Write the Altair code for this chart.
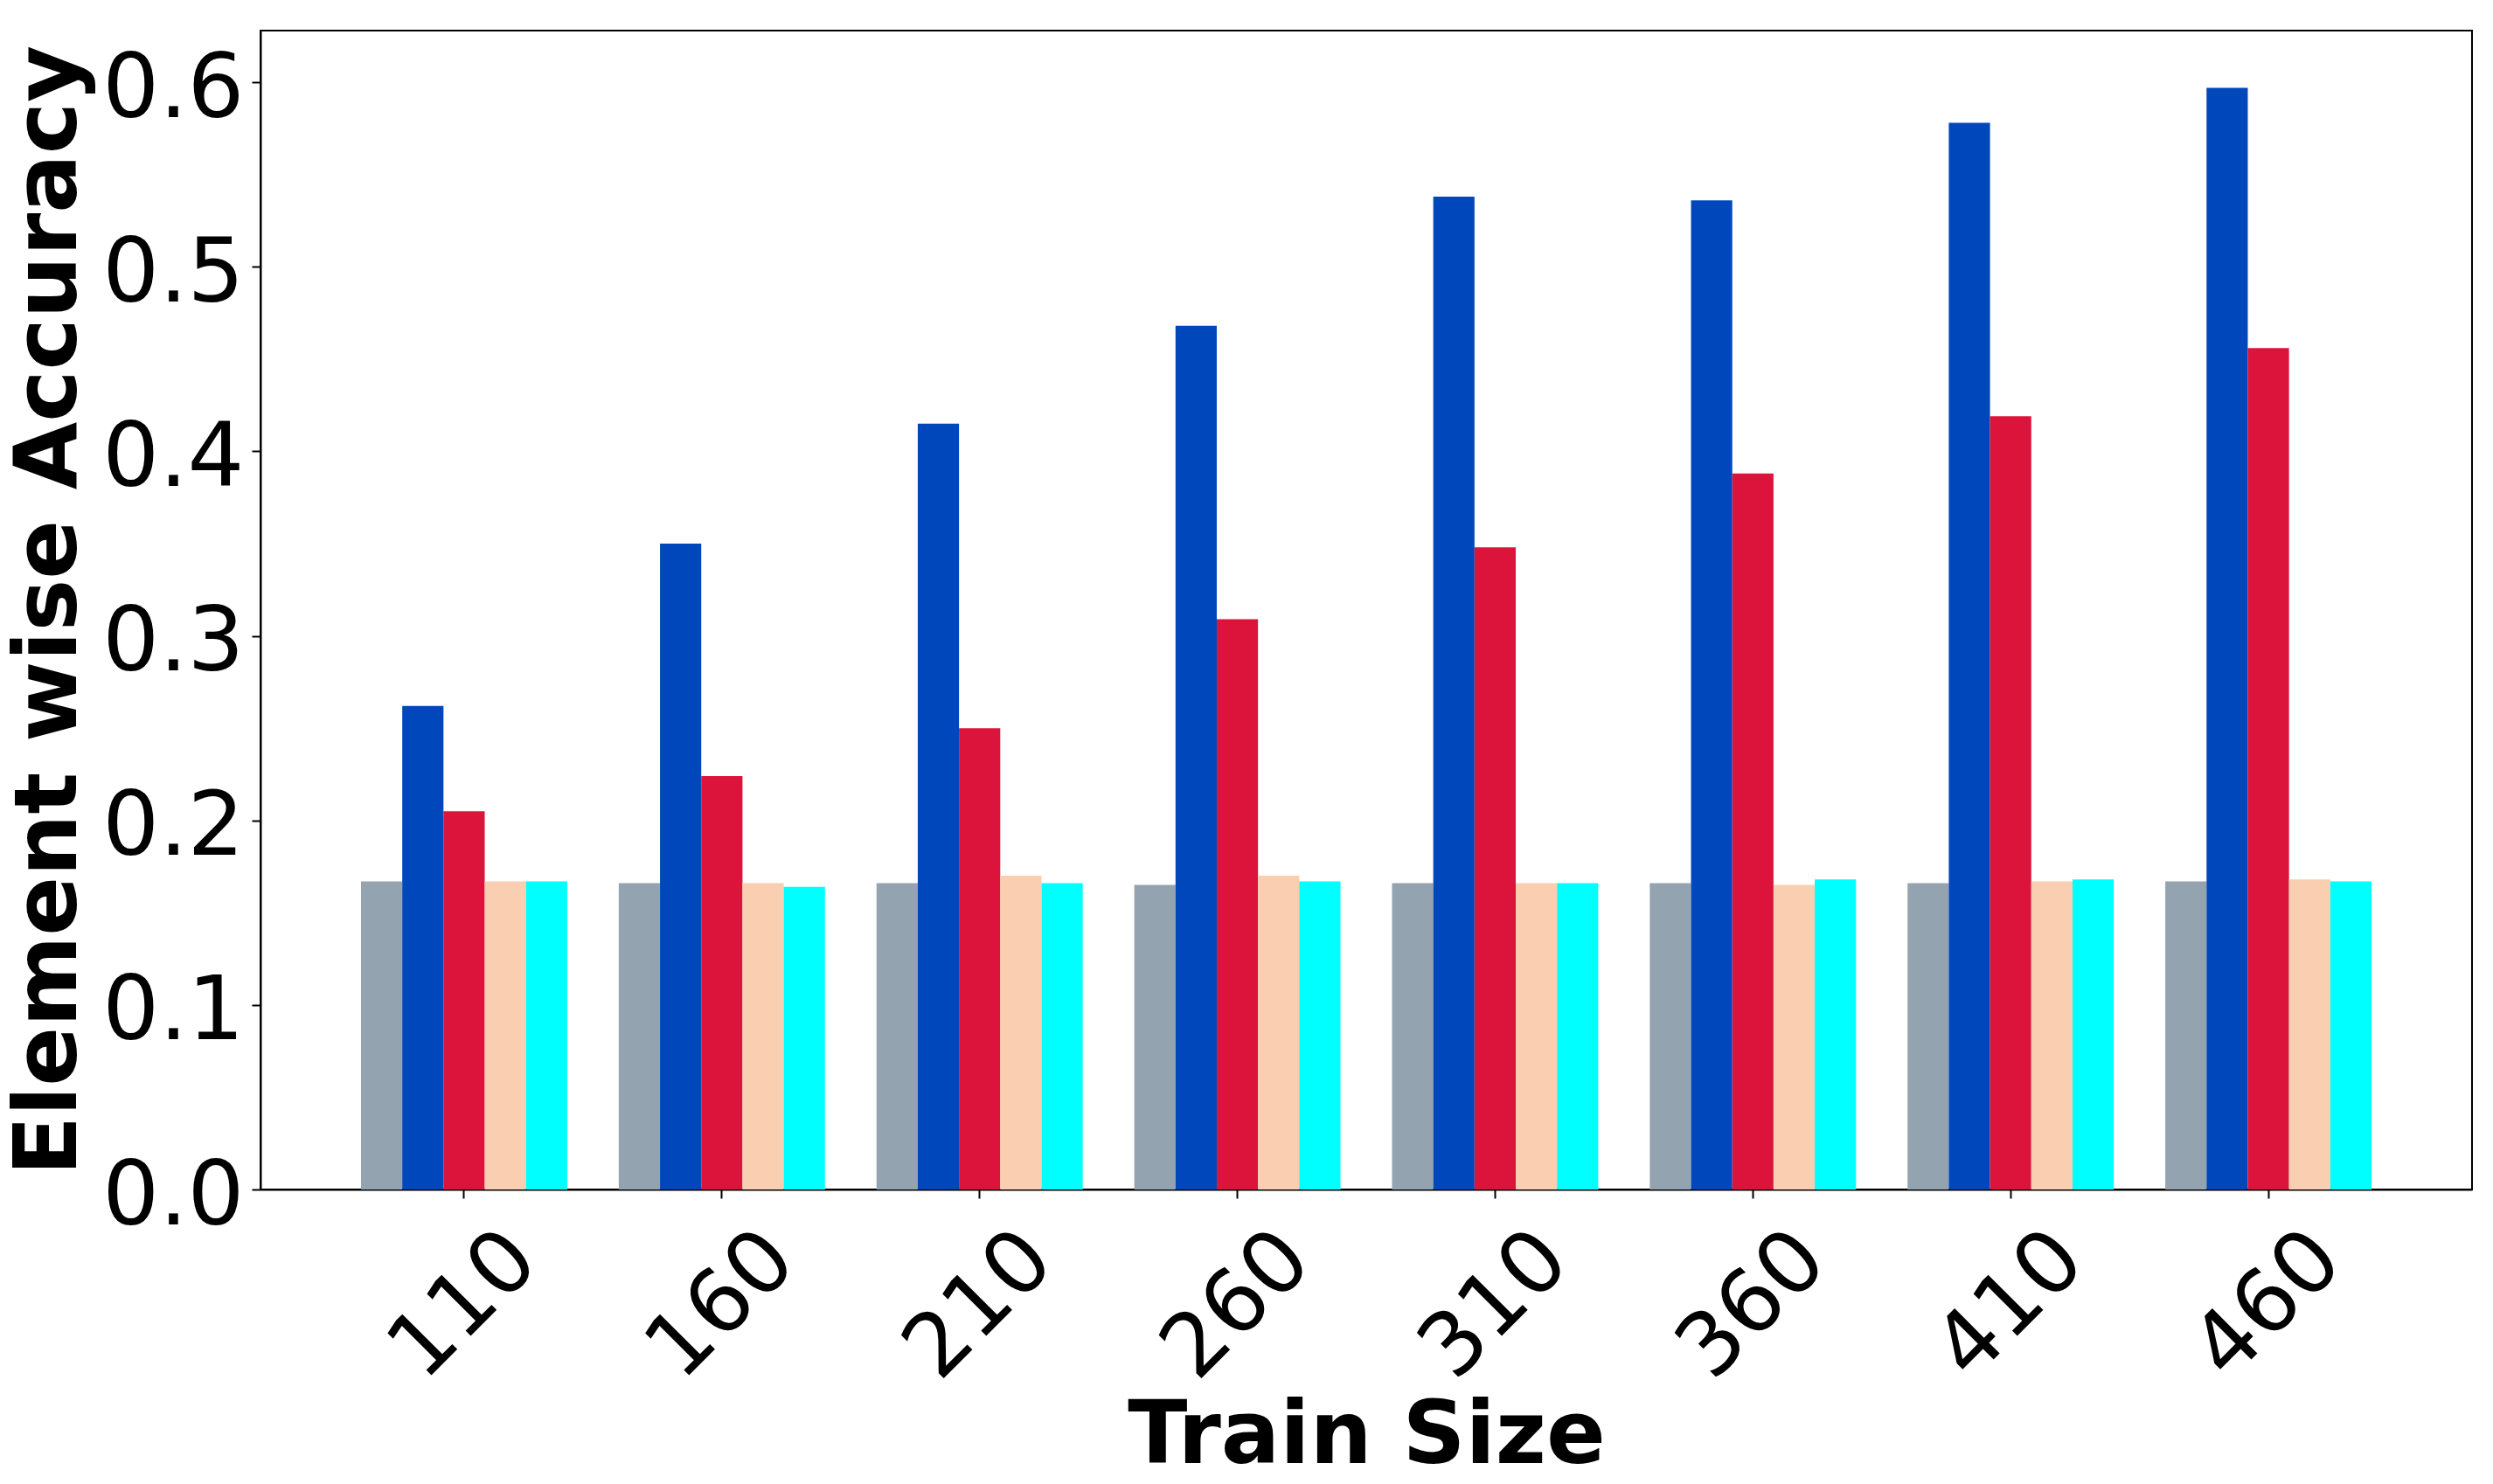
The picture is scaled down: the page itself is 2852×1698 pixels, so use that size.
import altair as alt
import pandas as pd

train_sizes = ["110", "160", "210", "260", "310", "360", "410", "460"]
series_names = ["Series 1", "Series 2", "Series 3", "Series 4", "Series 5"]
series_colors = ["#93A4B0", "#0047BB", "#DC143C", "#FACEB0", "#00FFFF"]

s1_values = [0.167, 0.166, 0.166, 0.165, 0.166, 0.166, 0.166, 0.167]
s2_values = [0.262, 0.350, 0.415, 0.468, 0.538, 0.536, 0.578, 0.597]
s3_values = [0.205, 0.224, 0.250, 0.309, 0.348, 0.388, 0.419, 0.456]
s4_values = [0.167, 0.166, 0.170, 0.170, 0.166, 0.165, 0.167, 0.168]
s5_values = [0.167, 0.164, 0.166, 0.167, 0.166, 0.168, 0.168, 0.167]

y_ticks = [0.0, 0.1, 0.2, 0.3, 0.4, 0.5, 0.6]

rows = []
for name, vals in zip(series_names, [s1_values, s2_values, s3_values, s4_values, s5_values]):
    for size, v in zip(train_sizes, vals):
        rows.append({"size": size, "series": name, "acc": v})
df = pd.DataFrame(rows)

FONT = "DejaVu Sans"

chart = alt.Chart(df).mark_bar().encode(
    x=alt.X(
        "size:N",
        sort=train_sizes,
        scale=alt.Scale(paddingInner=0.2, paddingOuter=0.39),
        axis=alt.Axis(
            title="Train Size",
            titleFont=FONT,
            titleFontSize=100,
            titleFontWeight="bold",
            titleColor="black",
            titleX=1265,
            titleY=312,
            titleAlign="center",
            titleBaseline="alphabetic",
            titleLimit=3000,
            labelFont=FONT,
            labelFontSize=100,
            labelColor="black",
            labelAngle=-45,
            labelAlign="center",
            labelBaseline="middle",
            labelPadding=122,
            labelOverlap=False,
            labelFlush=False,
            labelLimit=1000,
            tickSize=10,
            tickWidth=2,
            tickColor="black",
            domainColor="black",
            domainWidth=2,
            grid=False,
        ),
    ),
    xOffset=alt.XOffset(
        "series:N",
        sort=series_names,
        scale=alt.Scale(paddingInner=0, paddingOuter=0),
    ),
    y=alt.Y(
        "acc:Q",
        scale=alt.Scale(domain=[0, 0.628], nice=False, zero=True),
        axis=alt.Axis(
            title="Element wise Accuracy",
            titleFont=FONT,
            titleFontSize=100,
            titleFontWeight="bold",
            titleColor="black",
            titleAngle=270,
            titleX=-212,
            titleY=663,
            titleAlign="center",
            titleBaseline="alphabetic",
            titleLimit=3000,
            values=y_ticks,
            format=".1f",
            labelFont=FONT,
            labelFontSize=102,
            labelColor="black",
            labelPadding=9,
            labelOffset=8,
            labelFlush=False,
            labelOverlap=False,
            labelLimit=1000,
            tickSize=10,
            tickWidth=2,
            tickColor="black",
            domainColor="black",
            domainWidth=2,
            grid=False,
        ),
    ),
    color=alt.Color(
        "series:N",
        scale=alt.Scale(domain=series_names, range=series_colors),
        legend=None,
    ),
).properties(
    width=2530,
    height=1326,
    autosize=alt.AutoSizeParams(type="none"),
    padding={"left": 290, "top": 27, "right": 10, "bottom": 320},
).configure(
    background="white",
).configure_view(
    stroke="black",
    strokeWidth=2,
)

chart.save("out.html", embed_options={"renderer": "svg", "actions": False})
